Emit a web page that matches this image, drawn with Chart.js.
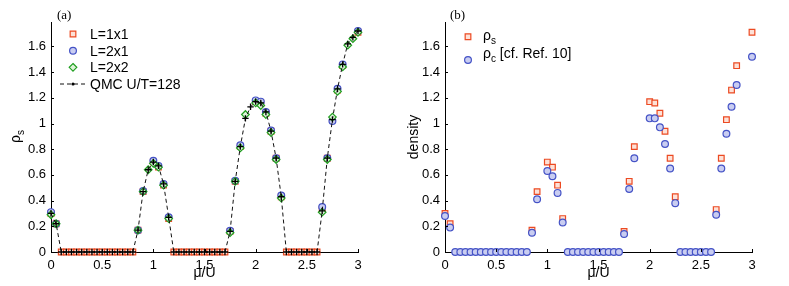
<!DOCTYPE html>
<html>
<head>
<meta charset="utf-8">
<script src="https://cdn.jsdelivr.net/npm/chart.js@4.4.1/dist/chart.umd.min.js"></script>
<style>
  body { margin: 0; background: #fff; }
  .wrap { position: relative; width: 789px; height: 286px; }
  .panel { position: absolute; top: 0; }
  #panelA { left: 0; }
  #panelB { left: 400px; }
</style>
</head>
<body>
<div class="wrap">
  <div class="panel" id="panelA"><canvas id="chartA" width="400" height="286"></canvas></div>
  <div class="panel" id="panelB"><canvas id="chartB" width="389" height="286"></canvas></div>
</div>
<script>
// mu/U grid shared by all series
const muU = [0, 0.05, 0.1, 0.15, 0.2, 0.25, 0.3, 0.35, 0.4, 0.45, 0.5, 0.55, 0.6, 0.65, 0.7, 0.75, 0.8,
  0.85, 0.9, 0.95, 1, 1.05, 1.1, 1.15,
  1.2, 1.25, 1.3, 1.35, 1.4, 1.45, 1.5, 1.55, 1.6, 1.65, 1.7,
  1.75, 1.8, 1.85, 1.9, 1.95, 2, 2.05, 2.1, 2.15, 2.2, 2.25,
  2.3, 2.35, 2.4, 2.45, 2.5, 2.55, 2.6,
  2.65, 2.7, 2.75, 2.8, 2.85, 2.9, 2.95, 3];

// panel (a)
const qmc = [0.30, 0.22, 0, 0, 0, 0, 0, 0, 0, 0, 0, 0, 0, 0, 0, 0, 0,
  0.17, 0.47, 0.64, 0.70, 0.67, 0.53, 0.27,
  0, 0, 0, 0, 0, 0, 0, 0, 0, 0, 0,
  0.16, 0.55, 0.82, 1.04, 1.13, 1.17, 1.16, 1.09, 0.94, 0.73, 0.43,
  0, 0, 0, 0, 0, 0, 0,
  0.32, 0.73, 1.03, 1.27, 1.46, 1.62, 1.67, 1.72];
const l1x1 = [0.30, 0.22, 0, 0, 0, 0, 0, 0, 0, 0, 0, 0, 0, 0, 0, 0, 0,
  0.17, 0.47, null, 0.70, 0.66, 0.52, 0.26,
  0, 0, 0, 0, 0, 0, 0, 0, 0, 0, 0,
  0.16, 0.55, 0.82, null, null, 1.17, 1.16, 1.08, 0.94, 0.73, 0.43,
  0, 0, 0, 0, 0, 0, 0,
  0.33, 0.73, 1.03, 1.26, 1.45, null, null, 1.71];
const l2x1 = [0.31, 0.22, null, null, null, null, null, null, null, null, null, null, null, null, null, null, null,
  0.17, 0.475, null, 0.71, 0.67, 0.53, 0.27,
  null, null, null, null, null, null, null, null, null, null, null,
  0.165, 0.555, 0.83, null, null, 1.18, 1.17, 1.09, 0.945, 0.73, 0.44,
  null, null, null, null, null, null, null,
  0.35, 0.73, 1.02, 1.27, 1.46, null, null, 1.72];
const l2x2 = [0.29, 0.22, null, null, null, null, null, null, null, null, null, null, null, null, null, null, null,
  0.17, 0.47, 0.64, 0.69, 0.66, 0.52, 0.26,
  null, null, null, null, null, null, null, null, null, null, null,
  0.15, 0.55, 0.81, 1.07, null, 1.16, 1.14, 1.07, 0.93, 0.72, 0.42,
  null, null, null, null, null, null, null,
  0.31, 0.72, 1.05, 1.25, 1.44, 1.61, 1.66, 1.71];

// panel (b)
const rhoS = [0.30, 0.22, null, null, null, null, null, null, null, null, null, null, null, null, null, null, null,
  0.17, 0.47, null, 0.70, 0.66, 0.52, 0.26,
  null, null, null, null, null, null, null, null, null, null, null,
  0.16, 0.55, 0.82, null, null, 1.17, 1.16, 1.08, 0.94, 0.73, 0.43,
  null, null, null, null, null, null, null,
  0.33, 0.73, 1.03, 1.26, 1.45, null, null, 1.71];
const rhoC = [0.28, 0.19, 0, 0, 0, 0, 0, 0, 0, 0, 0, 0, 0, 0, 0, 0, 0,
  0.15, 0.41, null, 0.63, 0.59, 0.46, 0.23,
  0, 0, 0, 0, 0, 0, 0, 0, 0, 0, 0,
  0.14, 0.49, 0.73, null, null, 1.04, 1.04, 0.97, 0.84, 0.65, 0.38,
  0, 0, 0, 0, 0, 0, 0,
  0.29, 0.65, 0.92, 1.13, 1.30, null, null, 1.52];

const xTicks = [0, 0.5, 1, 1.5, 2, 2.5, 3];
const yTicks = [0, 0.2, 0.4, 0.6, 0.8, 1, 1.2, 1.4, 1.6];

const FONT = '"Liberation Sans", Arial, Helvetica, sans-serif';
Chart.defaults.font.family = FONT;
Chart.defaults.font.size = 13;
Chart.defaults.color = '#000';

function pts(arr) {
  return muU.map((m, i) => ({ x: m, y: arr[i] })).filter(p => p.y !== null);
}

function marker(ctx, ds, x, y) {
  const r = ds.pointRadius;
  ctx.beginPath();
  if (ds.pointStyle === 'rect') {
    const s = r * Math.SQRT1_2;
    ctx.rect(x - s, y - s, 2 * s, 2 * s);
  } else if (ds.pointStyle === 'rectRot') {
    ctx.moveTo(x, y - r); ctx.lineTo(x + r, y); ctx.lineTo(x, y + r); ctx.lineTo(x - r, y); ctx.closePath();
  } else {
    ctx.arc(x, y, r, 0, Math.PI * 2);
  }
  ctx.fillStyle = ds.pointBackgroundColor;
  ctx.fill();
  ctx.strokeStyle = ds.pointBorderColor;
  ctx.lineWidth = ds.pointBorderWidth;
  ctx.stroke();
}

function subText(ctx, x, y, main, sub, rest, size) {
  ctx.font = size + 'px ' + FONT;
  ctx.fillText(main, x, y);
  let w = ctx.measureText(main).width;
  ctx.font = Math.round(size * 0.72) + 'px ' + FONT;
  ctx.fillText(sub, x + w, y + size * 0.3);
  w += ctx.measureText(sub).width;
  if (rest) {
    ctx.font = size + 'px ' + FONT;
    ctx.fillText(rest, x + w, y);
  }
}

const decor = {
  id: 'decor',
  afterDraw(chart, args, o) {
    const ctx = chart.ctx;
    const xs = chart.scales.x, ys = chart.scales.y;
    const area = chart.chartArea;
    ctx.save();
    // inward tick marks
    ctx.strokeStyle = '#000';
    ctx.lineWidth = 1;
    ctx.beginPath();
    xs.ticks.forEach(t => {
      const p = Math.round(xs.getPixelForValue(t.value)) + 0.5;
      ctx.moveTo(p, area.bottom); ctx.lineTo(p, area.bottom - 3);
    });
    ys.ticks.forEach(t => {
      const p = Math.round(ys.getPixelForValue(t.value)) + 0.5;
      ctx.moveTo(area.left, p); ctx.lineTo(area.left + 3, p);
    });
    ctx.stroke();

    ctx.fillStyle = '#000';
    ctx.textAlign = 'left';
    ctx.textBaseline = 'alphabetic';
    ctx.font = '13px "Liberation Serif", "Times New Roman", serif';
    ctx.fillText(o.panel, o.panelX, o.panelY);

    if (o.rhoTitle) {
      ctx.save();
      ctx.translate(o.rhoTitle.x, o.rhoTitle.y);
      ctx.rotate(-Math.PI / 2);
      ctx.fillStyle = '#000';
      subText(ctx, 0, 0, 'ρ', 's', '', 14);
      ctx.restore();
    }

    o.legend.forEach(item => {
      const ds = chart.data.datasets[item.ds];
      if (item.line) {
        ctx.save();
        ctx.strokeStyle = ds.borderColor;
        ctx.lineWidth = 1;
        ctx.setLineDash([4, 3]);
        ctx.beginPath();
        ctx.moveTo(o.markerX - 13, item.y); ctx.lineTo(o.markerX + 14, item.y);
        ctx.stroke();
        ctx.restore();
        ctx.beginPath();
        ctx.arc(o.markerX, item.y, 1.6, 0, Math.PI * 2);
        ctx.fillStyle = '#000';
        ctx.fill();
      } else {
        marker(ctx, ds, o.markerX, item.y);
      }
      ctx.fillStyle = '#000';
      if (item.sub) {
        subText(ctx, o.textX, item.y + item.dy, item.text, item.sub, item.rest, 14);
      } else {
        ctx.font = '14px ' + FONT;
        ctx.fillText(item.text, o.textX, item.y + item.dy);
      }
    });
    ctx.restore();
  }
};

function axes(yWidth, yTitle) {
  return {
    x: {
      type: 'linear', min: 0, max: 3,
      afterBuildTicks: s => { s.ticks = xTicks.map(v => ({ value: v })); },
      afterFit: s => { s.height = 34; },
      grid: { display: false, drawTicks: false },
      border: { display: true, color: '#000', width: 1 },
      ticks: { padding: 6, maxRotation: 0, callback: v => String(+v.toFixed(1)) },
      title: { display: true, text: 'μ/U', font: { size: 14 }, padding: { top: 0, bottom: 4 } }
    },
    y: {
      type: 'linear', min: 0, max: 1.79,
      afterBuildTicks: s => { s.ticks = yTicks.map(v => ({ value: v })); },
      afterFit: s => { s.width = yWidth; },
      grid: { display: false, drawTicks: false },
      border: { display: true, color: '#000', width: 1 },
      ticks: { padding: 5, callback: v => String(+v.toFixed(1)) },
      title: yTitle ? { display: true, text: yTitle, font: { size: 14 }, padding: { top: 6, bottom: 0 } } : { display: false }
    }
  };
}

const red = { border: '#ec4a22', fill: '#fde1d7' };
const blue = { border: '#4452c6', fill: '#c9cdf1' };
const green = { border: '#22a022', fill: '#dff3da' };

function scatterSet(label, arr, style, radius, col, order) {
  return {
    label, data: pts(arr), showLine: false, clip: false, order,
    pointStyle: style, pointRadius: radius, pointHoverRadius: radius,
    pointBorderColor: col.border, pointBackgroundColor: col.fill, pointBorderWidth: 1.2,
    borderColor: col.border, backgroundColor: col.fill
  };
}

new Chart(document.getElementById('chartA'), {
  type: 'scatter',
  data: {
    datasets: [
      scatterSet('L=1x1', l1x1, 'rect', 4, red, 3),
      scatterSet('L=2x1', l2x1, 'circle', 3.4, blue, 2),
      scatterSet('L=2x2', l2x2, 'rectRot', 3.8, green, 1),
      {
        label: 'QMC U/T=128', data: pts(qmc), showLine: true, clip: false, order: 0,
        borderColor: '#111', borderWidth: 1, borderDash: [4, 3], tension: 0,
        pointStyle: 'cross', pointRadius: 3.2, pointBorderWidth: 1.3,
        pointBorderColor: '#000', pointBackgroundColor: '#000'
      }
    ]
  },
  options: {
    responsive: false, animation: false, devicePixelRatio: 1,
    layout: { padding: { left: 0, right: 42, top: 22, bottom: 0 } },
    scales: axes(51, null),
    plugins: {
      legend: { display: false }, tooltip: { enabled: false },
      decor: {
        panel: '(a)', panelX: 57, panelY: 19,
        rhoTitle: { x: 20, y: 143 },
        markerX: 73, textX: 90,
        legend: [
          { ds: 0, text: 'L=1x1', y: 34, dy: 5 },
          { ds: 1, text: 'L=2x1', y: 50.7, dy: 5 },
          { ds: 2, text: 'L=2x2', y: 67.3, dy: 5 },
          { ds: 3, text: 'QMC U/T=128', y: 84, dy: 5, line: true }
        ]
      }
    }
  },
  plugins: [decor]
});

new Chart(document.getElementById('chartB'), {
  type: 'scatter',
  data: {
    datasets: [
      scatterSet('ρs', rhoS, 'rect', 4, red, 1),
      scatterSet('ρc [cf. Ref. 10]', rhoC, 'circle', 3.4, blue, 0)
    ]
  },
  options: {
    responsive: false, animation: false, devicePixelRatio: 1,
    layout: { padding: { left: 0, right: 37, top: 22, bottom: 0 } },
    scales: axes(45, 'density'),
    plugins: {
      legend: { display: false }, tooltip: { enabled: false },
      decor: {
        panel: '(b)', panelX: 50, panelY: 19,
        markerX: 68, textX: 83,
        legend: [
          { ds: 0, text: 'ρ', sub: 's', rest: '', y: 36.7, dy: 3 },
          { ds: 1, text: 'ρ', sub: 'c', rest: ' [cf. Ref. 10]', y: 60, dy: -2 }
        ]
      }
    }
  },
  plugins: [decor]
});
</script>
</body>
</html>
